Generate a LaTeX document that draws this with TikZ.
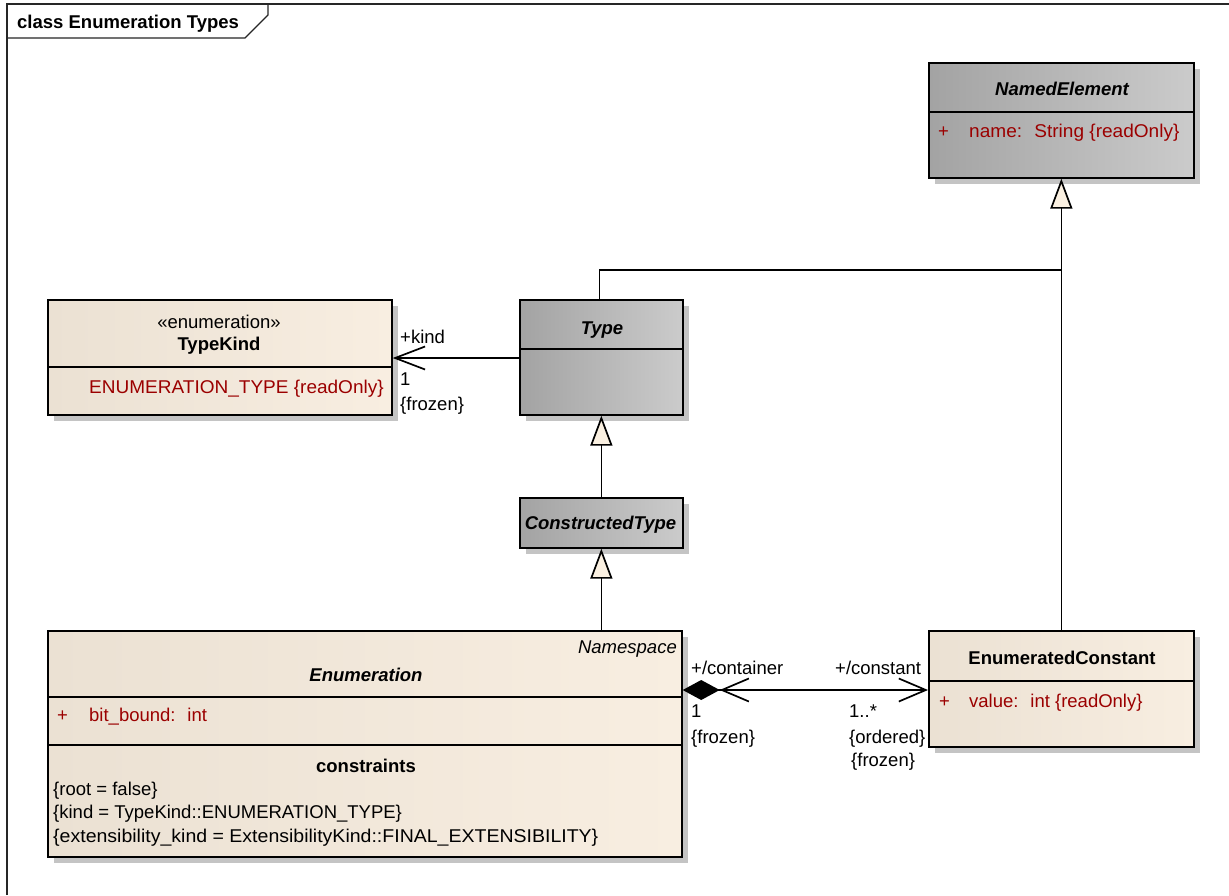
\documentclass[tikz,border=0pt]{standalone}
\usepackage{fontspec}
\setmainfont{Liberation Sans}
\usetikzlibrary{arrows.meta,shadows,calc}
\definecolor{attr}{RGB}{155,0,0}
\definecolor{bgl}{RGB}{235,225,211}
\definecolor{bgr}{RGB}{248,238,225}
\definecolor{gl}{RGB}{163,163,163}
\definecolor{gr}{RGB}{203,203,203}
\definecolor{cream}{RGB}{250,240,225}
\definecolor{shad}{RGB}{196,196,196}
\begin{document}
\begin{tikzpicture}[x=1pt,y=-1pt,
  font=\fontsize{18.5}{22}\selectfont,
  box/.style={draw=black, line width=1.7pt, anchor=north west, inner sep=0pt,
    general shadow={fill=shad, shadow xshift=6pt, shadow yshift=-6pt}},
  beige/.style={box, left color=bgl, right color=bgr},
  grayb/.style={box, left color=gl, right color=gr},
  sep/.style={line width=1.7pt},
  txt/.style={inner sep=0pt, anchor=mid, yshift=-4pt},
  ltxt/.style={inner sep=0pt, anchor=mid west, yshift=-4pt},
  rtxt/.style={inner sep=0pt, anchor=mid east, yshift=-4pt},
  atxt/.style={ltxt, text=attr},
  conn/.style={line width=1.7pt, line join=miter},
  gen/.style={conn, -{Triangle[length=30pt,width=22pt,fill=cream]}},
  kbarb/.tip={Straight Barb[length=30pt,width=23pt]},
  cbarb/.tip={Straight Barb[length=27pt,width=23pt]},
  frame/.style={line width=1.4pt, draw=black!85}
]
\useasboundingbox (0,0) rectangle (1229,895);
\fill[white] (0,0) rectangle (1229,895);

% frame
\draw[frame] (7,895) -- (7,4) -- (1229,4);
\draw[frame] (7,38) -- (245,38) -- (268,15) -- (268,4);
\node[ltxt, yshift=1pt, font=\fontsize{18.5}{22}\selectfont\bfseries] (title) at (17,23) {class Enumeration Types};

% NamedElement
\node[grayb, minimum width=265pt, minimum height=115pt] (ne) at (928,62) {};
\draw[sep] (928,112) -- (1193,112);
\node[txt, font=\fontsize{18.5}{22}\selectfont\bfseries\itshape] (netitle) at (1062,89) {NamedElement};
\node[atxt] (neplus) at (938,131) {+};
\node[atxt] (neattr) at (969,131) {\scalebox{1.03}[1]{name:\hspace{5pt} String \{readOnly\}}};

% TypeKind
\node[beige, minimum width=344pt, minimum height=115pt] (tk) at (47,299) {};
\draw[sep] (47,367) -- (391,367);
\node[txt] (tkst) at (219,322) {«enumeration»};
\node[txt, font=\fontsize{18.5}{22}\selectfont\bfseries] (tkname) at (219,344) {TypeKind};
\node[atxt] (tklit) at (89,387) {\scalebox{1.028}[1]{ENUMERATION\_TYPE \{readOnly\}}};

% Type
\node[grayb, minimum width=163pt, minimum height=115pt] (type) at (519,299) {};
\draw[sep] (519,349) -- (682,349);
\node[txt, font=\fontsize{18.5}{22}\selectfont\bfseries\itshape] (typename) at (602,328) {Type};

% ConstructedType
\node[grayb, minimum width=163pt, minimum height=50pt] (ct) at (519,497) {};
\node[txt, font=\fontsize{18.5}{22}\selectfont\bfseries\itshape] (ctname) at (600.5,523) {ConstructedType};

% Enumeration
\node[beige, minimum width=634pt, minimum height=226pt] (enum) at (47,630) {};
\draw[sep] (47,697) -- (681,697);
\draw[sep] (47,745) -- (681,745);
\node[rtxt, font=\fontsize{18.5}{22}\selectfont\itshape] (ns) at (677,647) {Namespace};
\node[txt, font=\fontsize{18.5}{22}\selectfont\bfseries\itshape] (enumname) at (366,675) {Enumeration};
\node[atxt] (enplus) at (57,715) {+};
\node[atxt] (enattr) at (89,715) {bit\_bound:\hspace{5pt} int};
\node[txt, font=\fontsize{18.5}{22}\selectfont\bfseries] (cons) at (366,766) {constraints};
\node[ltxt] (c1) at (53,789) {\{root = false\}};
\node[ltxt] (c2) at (53,812) {\{kind = TypeKind::ENUMERATION\_TYPE\}};
\node[ltxt] (c3) at (53,836) {\scalebox{1.055}[1]{\{extensibility\_kind = ExtensibilityKind::FINAL\_EXTENSIBILITY\}}};

% EnumeratedConstant
\node[beige, minimum width=265pt, minimum height=116pt] (ec) at (928,630) {};
\draw[sep] (928,681) -- (1193,681);
\node[txt, font=\fontsize{18.5}{22}\selectfont\bfseries] (ecname) at (1062,658) {EnumeratedConstant};
\node[atxt] (ecplus) at (939,701) {+};
\node[atxt] (ecattr) at (969,701) {value:\hspace{5pt} int \{readOnly\}};

% connectors
\coordinate (gj) at (1061,270);
\coordinate (cy) at (0,690);
\draw[conn] ([xshift=-2pt]type.north) |- (gj);
\draw[gen] (ec.north) -- (ne.south);
\draw[gen] (ct.north) -- (type.south);
\draw[gen] (enum.north -| ct.south) -- (ct.south);
\draw[conn, -{kbarb}] (type.west |- 0,358) -- (tk.east |- 0,358);
\draw[conn, {Diamond[length=37pt,width=20pt] cbarb}-{cbarb}] (enum.east |- cy) -- (ec.west |- cy);

% association labels
\node[ltxt] (lkind) at (400,337) {+kind};
\node[ltxt] (lk1) at (400,379) {1};
\node[ltxt] (lkfr) at (400,404) {\{frozen\}};
\node[ltxt] (lcont) at (691,668) {+/container};
\node[ltxt] (lc1) at (691,711) {1};
\node[ltxt] (lcfr) at (691,737) {\{frozen\}};
\node[ltxt] (lconst) at (835,668) {+/constant};
\node[ltxt] (lm) at (849,711) {1..*};
\node[ltxt] (lord) at (849,737) {\{ordered\}};
\node[ltxt] (lmfr) at (851,760) {\{frozen\}};
\end{tikzpicture}
\end{document}
